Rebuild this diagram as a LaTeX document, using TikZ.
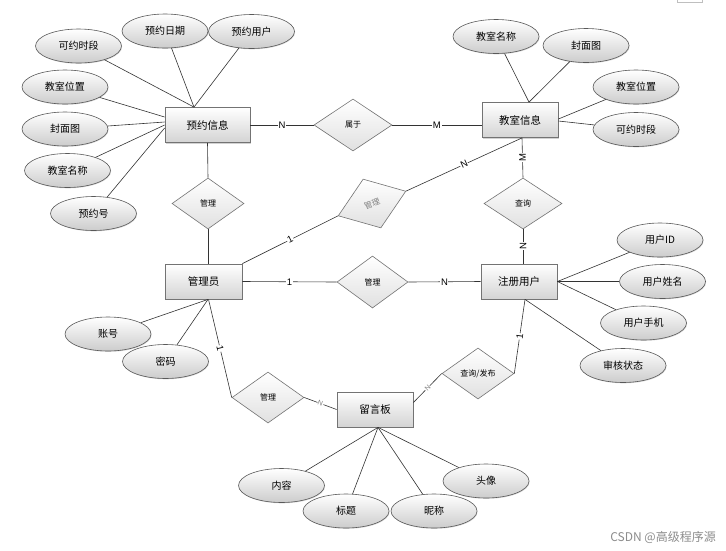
\documentclass[tikz,border=0pt]{standalone}
\usepackage{fontspec}
\setmainfont{Noto Sans CJK SC}
\newfontfamily\labfont{Liberation Sans}
\usetikzlibrary{shapes.geometric,shadows}
\begin{document}
\begin{tikzpicture}[x=1pt,y=-1pt,
 entity/.style={rectangle,draw=black!55,line width=0.8pt,top color=white,bottom color=black!17,minimum height=35pt,minimum width=76pt,inner sep=0pt,font=\fontsize{10.5}{12}\selectfont,drop shadow={shadow xshift=1.2pt,shadow yshift=-1.2pt,opacity=0.35}},
 attr/.style={ellipse,draw=black!65,line width=0.6pt,top color=white,bottom color=black!20,minimum width=86pt,minimum height=34pt,inner sep=0pt,font=\fontsize{10}{12}\selectfont,drop shadow={shadow xshift=0.6pt,shadow yshift=-0.8pt,opacity=0.3}},
 rel/.style={diamond,draw=black!55,line width=0.6pt,top color=white,bottom color=black!12,minimum width=72pt,minimum height=52pt,inner sep=0pt,font=\fontsize{8}{10}\selectfont},
 conn/.style={draw=black!80,line width=0.6pt},
 card/.style={font=\labfont\fontsize{9.5}{10}\selectfont,fill=white,inner sep=0.6pt,midway},
 cards/.style={card,sloped},
 cardg/.style={cards,text=black!50,font=\labfont\fontsize{7}{8}\selectfont},
]
\useasboundingbox (0,0) rectangle (726,550);
\fill[white] (0,0) rectangle (726,550);
\draw[black!25,line width=0.6pt] (677,-2) -- (677,2) -- (702,2) -- (702,-2);

% entities
\node[entity,minimum width=85pt] (yy) at (207.5,125) {预约信息};
\node[entity] (js) at (520,120) {教室信息};
\node[entity,minimum width=77pt] (gly) at (203.5,281.5) {管理员};
\node[entity] (zc) at (519,281.5) {注册用户};
\node[entity] (ly) at (375,409.5) {留言板};

% relations
\node[rel,minimum width=78pt] (sy) at (353,125) {属于};
\node[rel,minimum height=51pt] (gl1) at (208,203.5) {管理};
\node[rel,rotate=20,text=black!50] (gl2) at (372,203.5) {管理};
\node[rel,minimum width=78pt,minimum height=51pt] (cx) at (523,203.5) {查询};
\node[rel,minimum width=71pt] (gl3) at (372.5,282) {管理};
\node[rel,minimum height=51pt] (gl4) at (268,397.5) {管理};
\node[rel,minimum height=51pt] (cf) at (478,373.5) {查询/发布};

% attributes
\node[attr] (a1) at (78.5,46) {可约时段};
\node[attr] (a2) at (165,31) {预约日期};
\node[attr] (a3) at (251.5,31.5) {预约用户};
\node[attr] (a4) at (65,87) {教室位置};
\node[attr] (a5) at (65,129) {封面图};
\node[attr] (a6) at (67.5,170.5) {教室名称};
\node[attr] (a7) at (93.5,213.5) {预约号};
\node[attr] (b1) at (496,36.5) {教室名称};
\node[attr] (b2) at (586,45.5) {封面图};
\node[attr] (b3) at (636,87) {教室位置};
\node[attr] (b4) at (636,129.5) {可约时段};
\node[attr] (c1) at (660,240) {用户ID};
\node[attr] (c2) at (662.5,281.5) {用户姓名};
\node[attr] (c3) at (643.5,323) {用户手机};
\node[attr] (c4) at (623,365.5) {审核状态};
\node[attr] (d1) at (108,334) {账号};
\node[attr] (d2) at (165.5,361.5) {密码};
\node[attr] (e1) at (281.5,485.5) {内容};
\node[attr] (e2) at (346,511) {标题};
\node[attr] (e3) at (434,511) {昵称};
\node[attr] (e4) at (486,481) {头像};

% attribute connectors
\draw[conn] (a1) -- ([xshift=-13.5pt]yy.north);
\draw[conn] (a2) -- ([xshift=-13.5pt]yy.north);
\draw[conn] (a3) -- ([xshift=-13.5pt]yy.north);
\draw[conn] (a4) -- ([yshift=8pt]yy.west);
\draw[conn] (a5) -- ([yshift=3pt]yy.west);
\draw[conn] (a6) -- (yy.west);
\draw[conn] (a7) -- ([yshift=-3pt]yy.west);
\draw[conn] (b1) -- ([xshift=9pt]js.north);
\draw[conn] (b2) -- ([xshift=9pt]js.north);
\draw[conn] (b3) -- ([yshift=1pt]js.east);
\draw[conn] (b4) -- ([yshift=-1pt]js.east);
\draw[conn] (c1) -- (zc.east);
\draw[conn] (c2) -- (zc.east);
\draw[conn] (c3) -- (zc.east);
\draw[conn] (c4) -- ([xshift=6pt]zc.south);
\draw[conn] (d1) -- ([xshift=4.5pt]gly.south);
\draw[conn] (d2) -- ([xshift=4.5pt]gly.south);
\draw[conn] (e1) -- ([xshift=3pt]ly.south);
\draw[conn] (e2) -- ([xshift=3pt]ly.south);
\draw[conn] (e3) -- ([xshift=3pt]ly.south);
\draw[conn] (e4) -- ([xshift=3pt]ly.south);

% relationship connectors
\draw[conn] (yy.east) -- node[card] {N} (sy.west);
\draw[conn] (sy.east) -- node[card] {M} ([yshift=-5pt]js.west);
\draw[conn] (yy.south) -- (gl1.north);
\draw[conn] (gl1.south) -- ([xshift=4.5pt]gly.north);
\draw[conn] (gly.north east) -- node[cards] {1} (gl2.west);
\draw[conn] (gl2.east) -- node[cards] {N} ([xshift=2pt]js.south);
\draw[conn] ([xshift=2pt]js.south) -- node[card,rotate=90] {M} (cx.north);
\draw[conn] (cx.south) -- node[card,rotate=90] {N} ([xshift=4pt]zc.north);
\draw[conn] (gly.east) -- node[card] {1} (gl3.west);
\draw[conn] (gl3.east) -- node[card] {N} (zc.west);
\draw[conn] ([xshift=5pt]gly.south) -- node[cards] {1} (gl4.west);
\draw[conn] (gl4.east) -- node[cardg] {N} (ly.west);
\draw[conn] ([xshift=6pt]zc.south) -- node[cards] {1} (cf.east);
\draw[conn] (cf.west) -- node[cardg] {N} ([yshift=7pt]ly.east);

% watermark
\node[anchor=east,text=black!45,font=\fontsize{12}{14}\selectfont,inner sep=0pt] (wm) at (716,537) {CSDN @高级程序源};
\end{tikzpicture}
\end{document}
